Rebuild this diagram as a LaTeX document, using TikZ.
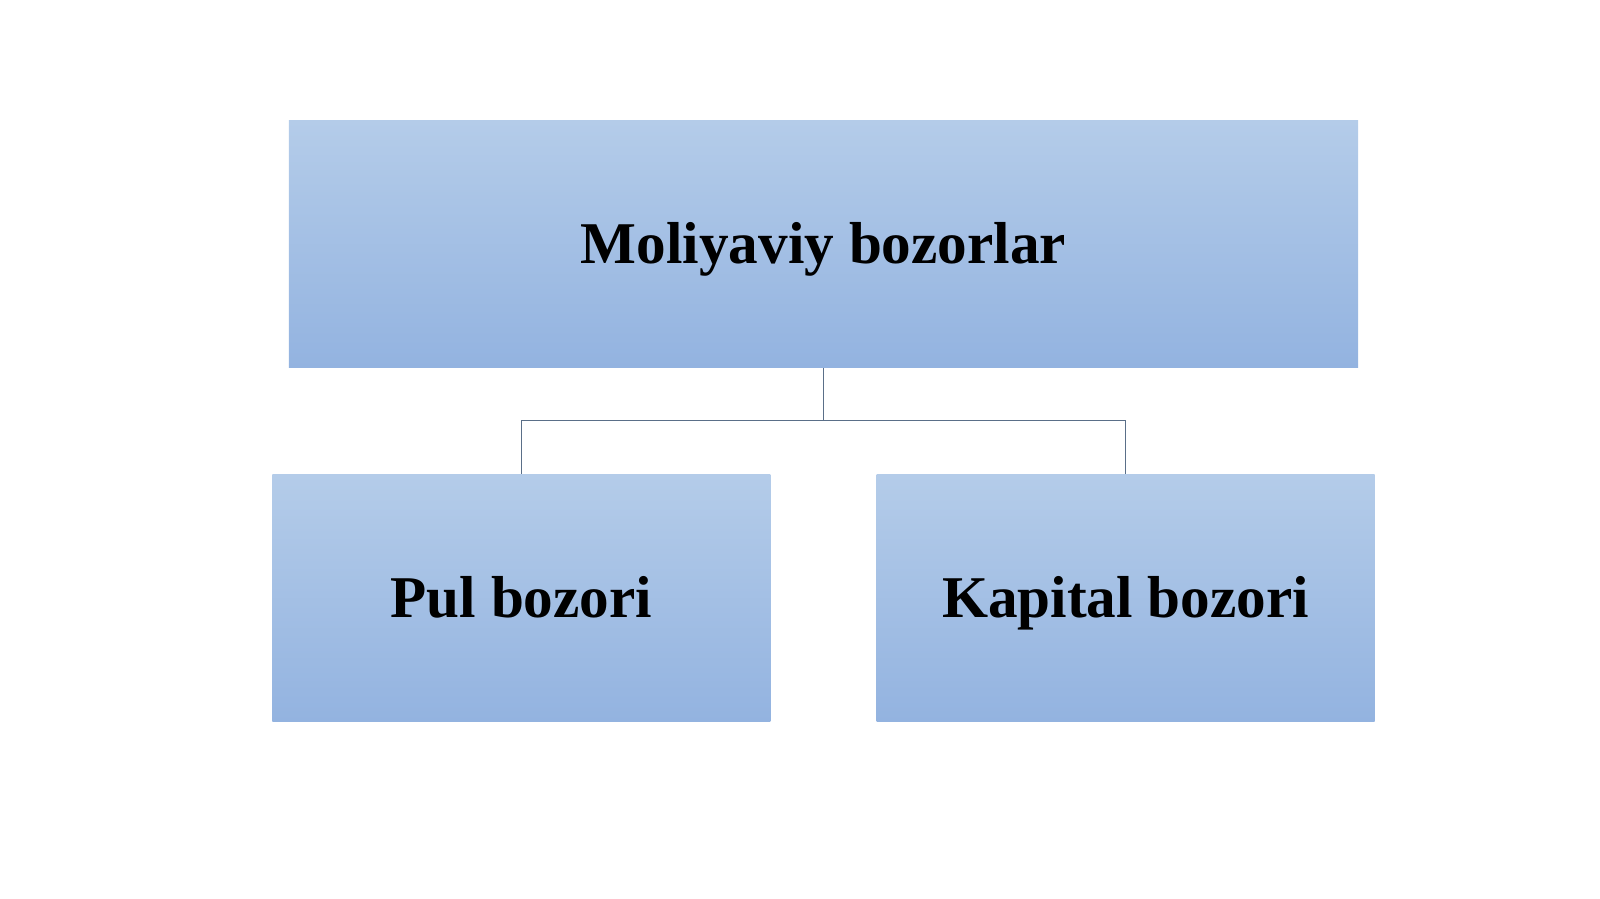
\documentclass[tikz,border=0pt]{standalone}
\usepackage{fontspec}
\setmainfont{Liberation Serif}
\definecolor{boxtop}{HTML}{B4CCE9}
\definecolor{boxbottom}{HTML}{93B3E0}
\definecolor{linkcol}{HTML}{5A6F88}
\tikzset{
  market/.style={rectangle, top color=boxtop, bottom color=boxbottom,
    minimum height=123.5pt, inner sep=0pt, text height=19.6pt, text depth=0pt,
    font=\fontsize{29.6}{34}\selectfont\bfseries},
  link/.style={draw=linkcol, line width=0.7pt}
}
\begin{document}
\begin{tikzpicture}[x=0.5102pt, y=-0.5102pt]
    \useasboundingbox (0,0) rectangle (1568,881);
    \node[market, minimum width=534.7pt] (moliya) at (807,239) {Moliyaviy bozorlar};
    \node[market, minimum width=249pt] (pul) at (511,586) {Pul bozori};
    \node[market, minimum width=249pt] (kapital) at (1103,586) {Kapital bozori};

    % branches
    \coordinate (branch) at (807,412);
    \draw[link] (moliya.south) -- (branch) -| (pul.north);
    \draw[link] (branch) -| (kapital.north);
  \end{tikzpicture}
\end{document}
